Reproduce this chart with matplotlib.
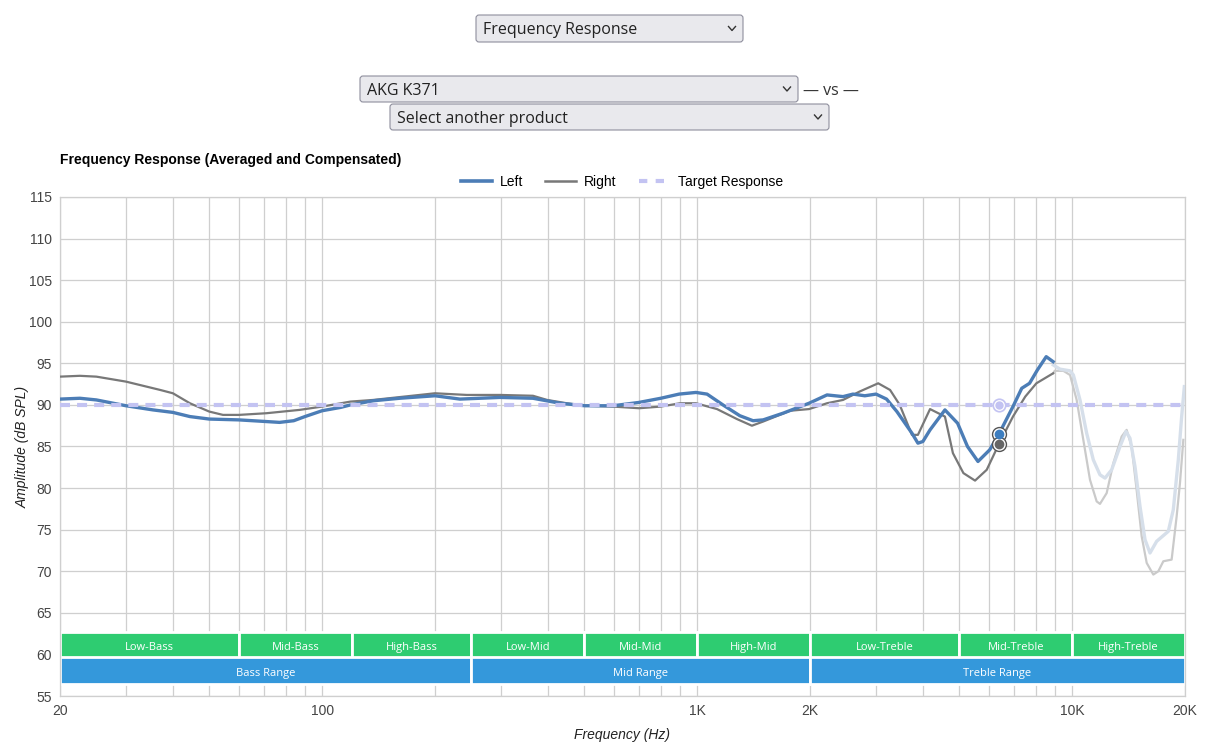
import matplotlib
matplotlib.use("Agg")
import matplotlib.pyplot as plt
from matplotlib.lines import Line2D
from matplotlib.patches import FancyBboxPatch
from matplotlib.transforms import IdentityTransform
from matplotlib.ticker import FixedLocator, FixedFormatter, NullFormatter

plt.rcParams['font.family'] = ['Liberation Sans', 'DejaVu Sans']

# --- data ---
left_freq = [20, 22.6, 25, 30, 35.4, 40, 44.4, 50, 60, 71, 77, 84, 90, 100, 112, 119, 137, 161,
             200, 233, 298, 365, 431, 502, 597, 700, 800, 895, 993, 1063, 1172, 1300, 1410, 1500,
             1694, 1988, 2220, 2450, 2604, 2800, 3000, 3200, 3410, 3740, 3880, 4000, 4180, 4580,
             4950, 5260, 5610, 6030, 6380, 6955, 7340, 7700, 8080, 8530, 8900]
left_db = [90.7, 90.8, 90.6, 89.9, 89.4, 89.1, 88.6, 88.3, 88.2, 88.0, 87.9, 88.1, 88.6, 89.3, 89.7,
           90.0, 90.5, 90.8, 91.1, 90.7, 90.9, 90.8, 90.2, 89.9, 89.9, 90.3, 90.8, 91.3, 91.5, 91.3,
           90.0, 88.7, 88.1, 88.2, 89.0, 90.2, 91.2, 91.0, 91.3, 91.1, 91.3, 90.7, 89.2, 86.6, 85.4,
           85.6, 87.0, 89.4, 87.8, 85.0, 83.2, 84.6, 86.5, 89.8, 92.0, 92.6, 94.2, 95.8, 95.2]

left_hi_freq = [8912, 9284, 9872, 10077, 10496, 10934, 11390, 11866, 12238, 12748, 13418, 13920,
                14266, 14710, 15172, 15646, 16132, 16806, 18052, 18614, 19196, 19594, 19920]
left_hi_db = [94.8, 94.3, 94.1, 93.6, 90.6, 86.6, 83.4, 81.6, 81.2, 82.2, 85.0, 86.8, 86.0, 82.6,
              77.8, 73.8, 72.2, 73.6, 74.8, 77.4, 83.4, 88.6, 92.2]

right_freq = [20, 22.6, 25, 30, 37, 40, 44.4, 50, 54.4, 60, 71, 87, 100, 119, 137, 200, 243, 298,
              365, 398, 449, 502, 597, 700, 800, 900, 993, 1130, 1277, 1400, 1500, 1770, 1988,
              2220, 2450, 2710, 3040, 3270, 3470, 3740, 3880, 4180, 4580, 4810, 5130, 5510, 5920,
              6380, 6955, 7500, 8030, 8900]
right_db = [93.4, 93.5, 93.4, 92.8, 91.8, 91.4, 90.2, 89.2, 88.8, 88.8, 89.0, 89.4, 89.8, 90.4,
            90.6, 91.4, 91.2, 91.2, 91.1, 90.6, 90.2, 89.9, 89.8, 89.6, 89.8, 90.2, 90.2, 89.5,
            88.3, 87.5, 88.0, 89.3, 89.5, 90.2, 90.6, 91.6, 92.6, 91.8, 90.0, 86.4, 86.4, 89.5,
            88.6, 84.2, 81.8, 80.9, 82.2, 85.3, 88.6, 91.0, 92.6, 93.8]

right_hi_freq = [8900, 8986, 9476, 9872, 10284, 10712, 11160, 11626, 11866, 12364, 12880, 13556,
                 13976, 14412, 14860, 15328, 15808, 16464, 16978, 17508, 18424, 19000, 19392, 19796]
right_hi_db = [93.8, 94.1, 94.1, 93.6, 90.6, 85.8, 81.0, 78.4, 78.1, 79.4, 83.0, 86.2, 87.0, 85.0,
               79.8, 74.2, 71.0, 69.6, 70.0, 71.2, 71.4, 76.6, 80.6, 85.8]

target_freq = [20, 20000]
target_db = [90, 90]

marker_freq = 6380
marker_left, marker_right, marker_target = 86.5, 85.3, 90

band_names = ['Low-Bass', 'Mid-Bass', 'High-Bass', 'Low-Mid', 'Mid-Mid', 'High-Mid',
              'Low-Treble', 'Mid-Treble', 'High-Treble']
band_edges = [20, 60, 120, 250, 500, 1000, 2000, 5000, 10000, 20000]
range_names = ['Bass Range', 'Mid Range', 'Treble Range']
range_edges = [20, 250, 2000, 20000]

y_ticks = list(range(55, 120, 5))
x_major = [20, 100, 1000, 2000, 10000, 20000]
x_major_labels = ['20', '100', '1K', '2K', '10K', '20K']
x_minor = [30, 40, 50, 60, 70, 80, 90, 200, 300, 400, 500, 600, 700, 800, 900,
           3000, 4000, 5000, 6000, 7000, 8000, 9000]

BLUE = '#4c7db6'
GRAY = '#787878'
TARGET = '#c3c3f2'

W, H = 1208, 747
fig = plt.figure(figsize=(W / 100, H / 100), dpi=100)
fig.patch.set_facecolor('white')
ax = fig.add_axes([60 / W, 1 - 696 / H, (1185 - 60) / W, (696 - 197) / H])

ax.set_xscale('log')
ax.set_xlim(20, 20000)
ax.set_ylim(55, 115)

ax.xaxis.set_major_locator(FixedLocator(x_major))
ax.xaxis.set_major_formatter(FixedFormatter(x_major_labels))
ax.xaxis.set_minor_locator(FixedLocator(x_minor))
ax.xaxis.set_minor_formatter(NullFormatter())
ax.yaxis.set_major_locator(FixedLocator(y_ticks))
ax.grid(which='both', color='#cfcfcf', linewidth=0.9)
ax.set_axisbelow(True)
ax.tick_params(which='both', length=0, labelsize=10, colors='#444444', pad=6)
for s in ax.spines.values():
    s.set_color('#cfcfcf')
    s.set_linewidth(0.9)

# range bands
for i, name in enumerate(band_names):
    lo, hi = band_edges[i], band_edges[i + 1]
    ax.barh(61.1, hi - lo, left=lo, height=3.1, color='#2ecc71', edgecolor='white',
            linewidth=2, zorder=2)
    ax.text((lo * hi) ** 0.5, 60.85, name, ha='center', va='center', color='white',
            fontsize=8, family=['Open Sans', 'DejaVu Sans'], zorder=3)
for i, name in enumerate(range_names):
    lo, hi = range_edges[i], range_edges[i + 1]
    ax.barh(58.03, hi - lo, left=lo, height=3.2, color='#3498db', edgecolor='white',
            linewidth=2, zorder=2)
    ax.text((lo * hi) ** 0.5, 57.75, name, ha='center', va='center', color='white',
            fontsize=8, family=['Open Sans', 'DejaVu Sans'], zorder=3)

# curves
ax.plot(right_hi_freq, right_hi_db, color='#cacaca', lw=1.6, zorder=4)
ax.plot(left_hi_freq, left_hi_db, color='#d6dfea', lw=2.4, zorder=4)
ax.plot(right_freq, right_db, color=GRAY, lw=1.6, zorder=5, solid_joinstyle='round')
ax.plot(left_freq, left_db, color=BLUE, lw=2.4, zorder=6, solid_joinstyle='round')
ax.plot(target_freq, target_db, color=TARGET, lw=3, dashes=(2.4, 1.7), zorder=7)

# hover markers
ax.plot(marker_freq, marker_target, 'o', ms=9, mfc='white', mec=TARGET, mew=1.2, zorder=8)
ax.plot(marker_freq, marker_target, 'o', ms=5, mfc=TARGET, mec=TARGET, zorder=9)
ax.plot(marker_freq, marker_left, 'o', ms=10, mfc='white', mec='#555555', mew=1, zorder=8)
ax.plot(marker_freq, marker_left, 'o', ms=6, mfc='#3d7ec0', mec='#3d7ec0', zorder=9)
ax.plot(marker_freq, marker_right, 'o', ms=10, mfc='white', mec='#555555', mew=1, zorder=8)
ax.plot(marker_freq, marker_right, 'o', ms=6, mfc='#666666', mec='#666666', zorder=9)

ax.set_ylabel('Amplitude (dB SPL)', fontsize=10, style='italic', color='#222222', labelpad=-1)
ax.set_xlabel('Frequency (Hz)', fontsize=10, style='italic', color='#222222', labelpad=7)

# title and legend
fig.text(60 / W, 1 - 160 / H, 'Frequency Response (Averaged and Compensated)',
         fontsize=10, fontweight='bold', ha='left', va='center', color='black')
handles = [Line2D([], [], color=BLUE, lw=2.6),
           Line2D([], [], color=GRAY, lw=1.8),
           Line2D([], [], color=TARGET, lw=3, dashes=(2, 2))]
fig.legend(handles, ['Left', 'Right', 'Target Response'], loc='center',
           bbox_to_anchor=(622 / W, 1 - 182 / H), ncol=3, frameon=False, fontsize=10,
           handlelength=2.2, columnspacing=1.6, handletextpad=0.6)


# dropdown boxes on top (pixel coords, origin top-left)
def dropdown(x0, y0, x1, y1, label):
    box = FancyBboxPatch((x0, H - y1), x1 - x0, y1 - y0,
                         boxstyle='round,pad=0,rounding_size=3',
                         transform=IdentityTransform(), facecolor='#e9e9ed',
                         edgecolor='#8f8f9d', linewidth=0.8)
    fig.add_artist(box)
    fig.text((x0 + 7) / W, 1 - ((y0 + y1) / 2 + 2) / H, label, fontsize=11.5, ha='left',
             va='center', color='#222222', family=['Open Sans', 'DejaVu Sans'])
    cx, cy = x1 - 11, H - (y0 + y1) / 2
    fig.add_artist(Line2D([cx - 3.5, cx, cx + 3.5], [cy + 2, cy - 2, cy + 2],
                          transform=IdentityTransform(), color='#333333', lw=1))


dropdown(476, 15, 743, 42, 'Frequency Response')
dropdown(360, 76, 798, 102, 'AKG K371')
dropdown(390, 104, 829, 130, 'Select another product')
fig.text(803 / W, 1 - 91 / H, '— vs —', fontsize=11.5, ha='left', va='center',
         color='#333333', family=['Open Sans', 'DejaVu Sans'])

fig.savefig('out.png', dpi=100)
